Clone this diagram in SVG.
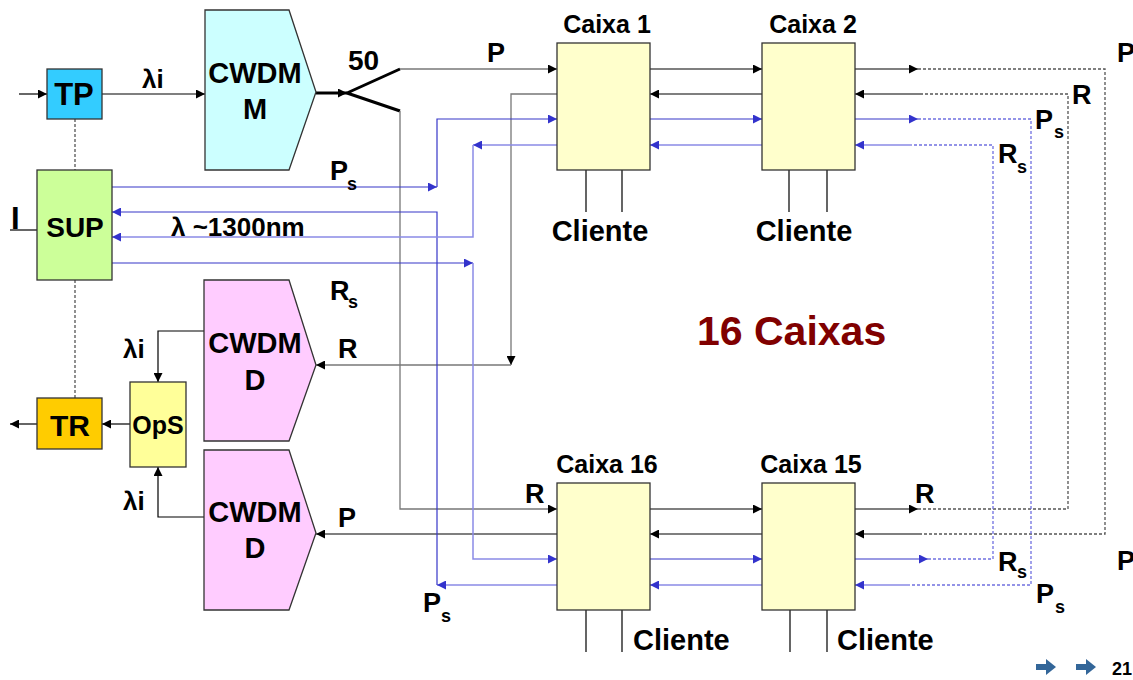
<svg xmlns="http://www.w3.org/2000/svg" width="1133" height="680" viewBox="0 0 1133 680">
<style>
text{font-family:"Liberation Sans",Arial,sans-serif;font-weight:bold;fill:#000}
.box{stroke:#333;stroke-width:1.3}
.k{fill:none;stroke:#000;stroke-width:1.2}
.g{fill:none;stroke:#777;stroke-width:1.3}
.b{fill:none;stroke:#3636c8;stroke-width:1.2}
.bl{fill:none;stroke:#8a8ae6;stroke-width:1.5}
.kd{fill:none;stroke:#555;stroke-width:1.3;stroke-dasharray:3,2}
.bd{fill:none;stroke:#7070e0;stroke-width:1.3;stroke-dasharray:3,2}
.lbl{font-size:27px}
.sub{font-size:18px}
</style>
<defs>
<marker id="ak" viewBox="0 0 10 10" refX="10" refY="5" markerWidth="10" markerHeight="9" orient="auto" markerUnits="userSpaceOnUse"><path d="M0,0 L10,5 L0,10 z" fill="#000"/></marker>
<marker id="ab" viewBox="0 0 10 10" refX="10" refY="5" markerWidth="10" markerHeight="9" orient="auto" markerUnits="userSpaceOnUse"><path d="M0,0 L10,5 L0,10 z" fill="#3333cc"/></marker>
</defs>
<rect width="1133" height="680" fill="#fff"/>

<g id="connectors">
<path class="k" d="M19,94 H47" marker-end="url(#ak)"/>
<path class="k" d="M102,94 H205" marker-end="url(#ak)"/>
<path d="M316,93 H347" fill="none" stroke="#000" stroke-width="3" marker-end="url(#ak)"/>
<path d="M347,93 L400,69 M347,93 L400,111" fill="none" stroke="#000" stroke-width="3"/>
<path class="g" d="M400,69 H557" marker-end="url(#ak)"/>
<path class="g" d="M400,111 V509 H557" marker-end="url(#ak)"/>
<path class="g" d="M557,94 H511 V365" marker-end="url(#ak)"/>
<path class="g" d="M511,365 H316" marker-end="url(#ak)"/>
<path class="k" d="M557,534 H316" marker-end="url(#ak)"/>
<path class="k" d="M204,331 H158 V382" marker-end="url(#ak)"/>
<path class="k" d="M204,517 H158 V467" marker-end="url(#ak)"/>
<path class="k" d="M130,424 H102" marker-end="url(#ak)"/>
<path class="k" d="M37,424 H10" marker-end="url(#ak)"/>
<path class="k" d="M10,230 H37"/>
<path class="kd" d="M75,119 V170 M75,280 V398"/>
<path class="k" d="M650,69 H762" marker-end="url(#ak)"/>
<path class="k" d="M762,94 H650" marker-end="url(#ak)"/>
<path class="k" d="M650,509 H762" marker-end="url(#ak)"/>
<path class="k" d="M762,534 H650" marker-end="url(#ak)"/>
<path class="k" d="M855,69 H918" marker-end="url(#ak)"/>
<path class="kd" d="M918,69 H1105 V534 H922"/>
<path class="k" d="M922,534 H855" marker-end="url(#ak)"/>
<path class="k" d="M855,509 H918" marker-end="url(#ak)"/>
<path class="kd" d="M918,509 H1068 V94 H920"/>
<path class="k" d="M920,94 H855" marker-end="url(#ak)"/>
<path class="k" d="M586,170 V212 M622,170 V212 M789,170 V212 M827,170 V212 M586,610 V652 M622,610 V652 M790,610 V652 M827,610 V652"/>
<path class="b" d="M112,187 H437" marker-end="url(#ab)"/>
<path class="b" d="M437,187 V119 H557" marker-end="url(#ab)"/>
<path class="bl" d="M557,585 H437" marker-end="url(#ab)"/>
<path class="b" d="M437,585 V212 H112" marker-end="url(#ab)"/>
<path class="bl" d="M557,145 H473" marker-end="url(#ab)"/>
<path class="bl" d="M473,145 V237 H112" marker-end="url(#ab)"/>
<path class="b" d="M112,263 H473" marker-end="url(#ab)"/>
<path class="bl" d="M473,263 V559 H557" marker-end="url(#ab)"/>
<path class="b" d="M650,119 H762" marker-end="url(#ab)"/>
<path class="bl" d="M762,145 H650" marker-end="url(#ab)"/>
<path class="b" d="M650,559 H762" marker-end="url(#ab)"/>
<path class="bl" d="M762,585 H650" marker-end="url(#ab)"/>
<path class="b" d="M855,119 H918" marker-end="url(#ab)"/>
<path class="bd" d="M918,119 H1031 V585 H910"/>
<path class="bl" d="M910,585 H855" marker-end="url(#ab)"/>
<path class="b" d="M855,559 H928" marker-end="url(#ab)"/>
<path class="bd" d="M928,559 H993 V145 H912"/>
<path class="bl" d="M912,145 H855" marker-end="url(#ab)"/>
</g>

<g id="TP"><rect class="box" x="47" y="69" width="55" height="50" fill="#33ccff"/><text x="74" y="105" font-size="31" text-anchor="middle">TP</text></g>
<g id="SUP"><rect class="box" x="37" y="170" width="75" height="110" fill="#ccff99"/><text x="75" y="237" font-size="28" text-anchor="middle">SUP</text></g>
<g id="TR"><rect class="box" x="37" y="398" width="65" height="51" fill="#ffcc00"/><text x="70" y="436" font-size="30" text-anchor="middle">TR</text></g>
<g id="OpS"><rect class="box" x="130" y="382" width="56" height="85" fill="#ffff99"/><text x="158" y="434" font-size="25" text-anchor="middle">OpS</text></g>
<g id="CWDM-M"><polygon class="box" points="205,10 289,10 316,92 289,170 205,170" fill="#ccffff"/><text x="255" y="83" font-size="29" text-anchor="middle">CWDM</text><text x="255" y="119" font-size="29" text-anchor="middle">M</text></g>
<g id="CWDM-D1"><polygon class="box" points="204,280 289,280 316,365 289,441 204,441" fill="#ffccff"/><text x="255" y="353" font-size="29" text-anchor="middle">CWDM</text><text x="255" y="390" font-size="29" text-anchor="middle">D</text></g>
<g id="CWDM-D2"><polygon class="box" points="204,450 289,450 316,533 289,610 204,610" fill="#ffccff"/><text x="255" y="522" font-size="29" text-anchor="middle">CWDM</text><text x="255" y="558" font-size="29" text-anchor="middle">D</text></g>
<g id="Caixa1"><rect class="box" x="557" y="43" width="93" height="127" fill="#ffffcc"/><text x="607" y="33" font-size="25" text-anchor="middle">Caixa 1</text><text x="600" y="241" font-size="29" text-anchor="middle">Cliente</text></g>
<g id="Caixa2"><rect class="box" x="762" y="43" width="93" height="127" fill="#ffffcc"/><text x="813" y="33" font-size="25" text-anchor="middle">Caixa 2</text><text x="804" y="241" font-size="29" text-anchor="middle">Cliente</text></g>
<g id="Caixa16"><rect class="box" x="557" y="483" width="93" height="127" fill="#ffffcc"/><text x="607" y="473" font-size="25" text-anchor="middle">Caixa 16</text><text x="633" y="650" font-size="29">Cliente</text></g>
<g id="Caixa15"><rect class="box" x="762" y="483" width="93" height="127" fill="#ffffcc"/><text x="811" y="473" font-size="25" text-anchor="middle">Caixa 15</text><text x="837" y="650" font-size="29">Cliente</text></g>

<g id="labels">
<text x="142" y="88" font-size="26">λi</text>
<text x="348" y="70" font-size="28">50</text>
<text x="11" y="229" font-size="31">I</text>
<text x="330" y="180" class="lbl">P</text><text x="347" y="190" class="sub">s</text>
<text x="171" y="236" font-size="26">λ ~1300nm</text>
<text x="330" y="300" class="lbl">R</text><text x="348" y="308" class="sub">s</text>
<text x="338" y="358" class="lbl">R</text>
<text x="338" y="527" class="lbl">P</text>
<text x="123" y="358" font-size="26">λi</text>
<text x="123" y="510" font-size="26">λi</text>
<text x="487" y="62" class="lbl">P</text>
<text x="525" y="503" class="lbl">R</text>
<text x="423" y="612" class="lbl">P</text><text x="441" y="622" class="sub">s</text>
<text x="915" y="503" class="lbl">R</text>
<text x="998" y="571" class="lbl">R</text><text x="1017" y="578" class="sub">s</text>
<text x="1036" y="603" class="lbl">P</text><text x="1055" y="613" class="sub">s</text>
<text x="1117" y="570" class="lbl">P</text>
<text x="1117" y="62" class="lbl">P</text>
<text x="1072" y="104" class="lbl">R</text>
<text x="1035" y="129" class="lbl">P</text><text x="1054" y="138" class="sub">s</text>
<text x="998" y="163" class="lbl">R</text><text x="1017" y="173" class="sub">s</text>
<text x="697" y="345" font-size="41" style="fill:#800000">16 Caixas</text>
<text x="1112" y="675" font-size="18">21</text>
</g>
<g id="nav" fill="#336699">
<path d="M1036,669 H1046 V664 L1056,672 L1046,680 V675 H1036 z" transform="translate(0,-5)"/>
<path d="M1076,669 H1086 V664 L1096,672 L1086,680 V675 H1076 z" transform="translate(0,-5)"/>
</g>
</svg>
